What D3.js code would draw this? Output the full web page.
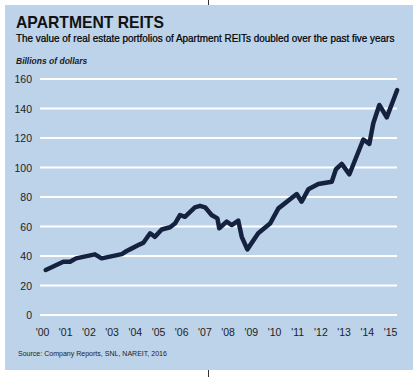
<!DOCTYPE html>
<html><head><meta charset="utf-8">
<script src="https://cdn.jsdelivr.net/npm/d3@7"></script>
<style>html,body{margin:0;padding:0;background:#fff;}svg{display:block;}</style>
</head><body>
<script>
const title = "APARTMENT REITS";
const subtitle = "The value of real estate portfolios of Apartment REITs doubled over the past five years";
const unitLabel = "Billions of dollars";
const source = "Source: Company Reports, SNL, NAREIT, 2016";
const yTicks = [0, 20, 40, 60, 80, 100, 120, 140, 160];
const xTickYears = [2000,2001,2002,2003,2004,2005,2006,2007,2008,2009,2010,2011,2012,2013,2014,2015];
const xTickLabels = ["'00","'01","'02","'03","'04","'05","'06","'07","'08","'09","'10","'11","'12","'13","'14","'15"];
const dates = [2000.16,2000.92,2001.21,2001.47,2002.28,2002.57,2003.44,2003.65,2003.79,2004.22,2004.37,2004.66,2004.87,2005.16,2005.52,2005.73,2005.95,2006.16,2006.59,2006.81,2007.03,2007.31,2007.56,2007.64,2007.96,2008.18,2008.46,2008.61,2008.85,2009.32,2009.83,2010.19,2010.98,2011.19,2011.48,2011.91,2012.49,2012.67,2012.92,2013.25,2013.85,2014.11,2014.28,2014.54,2014.86,2015.31];
const values = [30.5,36.1,36.1,38.4,41.1,38.4,41.3,43.4,44.5,47.9,49,55.4,53,58,59.5,62,67.8,66.6,73,74,73,67.8,65.5,58.8,63.3,61,64,53,44.5,55.4,62,72.3,82,76.8,85.2,88.8,90.4,98.8,102.4,95.4,119,116,130,142.4,134,152.5];

const W = 420, H = 377;
const svg = d3.select("body").append("svg").attr("width", W).attr("height", H);

svg.append("rect").attr("x", 5).attr("y", 5).attr("width", 408).attr("height", 365).attr("fill", "#bdd3ea");
svg.append("line").attr("x1", 208.5).attr("x2", 208.5).attr("y1", 0).attr("y2", 5).attr("stroke", "#333").attr("stroke-width", 1);
svg.append("line").attr("x1", 208.5).attr("x2", 208.5).attr("y1", 370).attr("y2", 377).attr("stroke", "#333").attr("stroke-width", 1);

const x = d3.scaleLinear().domain([2000, 2015]).range([42, 390]);
const y = d3.scaleLinear().domain([0, 160]).range([315, 79]);

function fitText(sel, left, base, width) {
  const w = sel.node().getComputedTextLength();
  const s = width / w;
  sel.attr("x", 0).attr("y", 0).attr("transform", `translate(${left},${base}) scale(${s},1)`);
}

const tt = svg.append("text").text(title)
  .attr("font-family", "Liberation Sans, Arial, sans-serif").attr("font-weight", "bold")
  .attr("font-size", 16.5).attr("fill", "#111");
fitText(tt, 16, 28, 148);
const st = svg.append("text").text(subtitle)
  .attr("font-family", "Liberation Sans Narrow, Arial Narrow, sans-serif").attr("font-weight", "normal")
  .attr("font-size", 10.8).attr("fill", "#000")
  .attr("stroke", "#000").attr("stroke-width", 0.25);
fitText(st, 16, 41.5, 379);
svg.append("text").attr("x", 16).attr("y", 64).text(unitLabel)
  .attr("font-family", "Liberation Sans, Arial, sans-serif").attr("font-weight", "bold").attr("font-style", "italic")
  .attr("font-size", 8.5).attr("fill", "#1a1a1a");

// grid
const yAxis = d3.axisLeft(y).tickValues(yTicks).tickSize(0).tickPadding(8);
const gy = svg.append("g").attr("transform", "translate(40,0)").call(yAxis);
gy.select(".domain").remove();
gy.selectAll("text").attr("font-family", "Liberation Sans, Arial, sans-serif").attr("font-size", 10.5).attr("fill", "#222").attr("dy", "0.36em");
svg.append("g").selectAll("line").data(yTicks).join("line")
  .attr("x1", 40).attr("x2", 397).attr("y1", d => y(d)).attr("y2", d => y(d))
  .attr("stroke", "#fff").attr("stroke-width", 2);

const xAxis = d3.axisBottom(x).tickValues(xTickYears).tickFormat((d, i) => xTickLabels[i]).tickSize(0).tickPadding(0);
const gx = svg.append("g").attr("transform", "translate(0,329)").call(xAxis);
gx.select(".domain").remove();
gx.selectAll("text").attr("font-family", "Liberation Sans, Arial, sans-serif").attr("font-size", 10.5).attr("fill", "#222");

const line = d3.line().x((d, i) => x(dates[i])).y(d => y(d));
svg.append("path").datum(values).attr("d", line).attr("fill", "none")
  .attr("stroke", "#15223f").attr("stroke-width", 4.5).attr("stroke-linejoin", "round").attr("stroke-linecap", "round");

const so = svg.append("text").text(source)
  .attr("font-family", "Liberation Sans, Arial, sans-serif").attr("font-size", 7.5).attr("fill", "#222");
fitText(so, 18, 356, 149);
</script>
</body></html>
